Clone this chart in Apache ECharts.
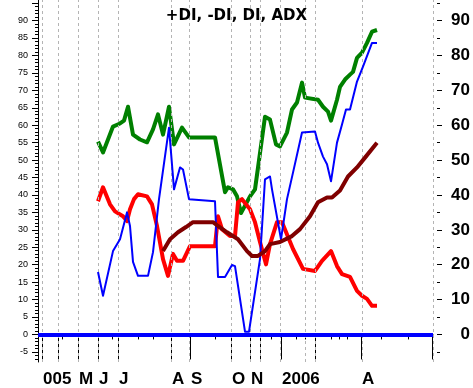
<!DOCTYPE html>
<html>
<head>
<meta charset="utf-8">
<script src="https://cdn.jsdelivr.net/npm/echarts@6/dist/echarts.min.js"></script>
<style>html,body{margin:0;padding:0;background:#fff}#c{width:473px;height:388px}</style>
</head>
<body>
<div id="c"></div>
<script>
// Bar index (x) and values for each series
const plusDiDays = [60,65,70,75,82,86,90,95,102,109,115,120,125,131,136,144,151,177,187,190,195,199,203,212,217,227,232,238,242,249,254,259,264,267,280,285,290,293,299,302,307,312,315,319,324,329,334,339];
const plusDiValues = [55.3,52.2,55.9,59.6,60.5,61.3,65.3,57.3,55.9,55.1,58.8,63.1,57.3,65.3,54.5,59.3,56.5,56.5,40.8,42.2,41.6,39.6,34.8,39.6,41.6,62.4,61.6,54.5,53.9,57.9,64.5,66.5,72.2,67.9,67.3,65.3,63.9,61.3,67.3,71.0,73.1,74.5,75.3,79.3,80.8,83.6,86.8,87.3];

const minusDiDays = [60,65,72,77,85,89,92,96,100,109,114,119,125,130,135,139,145,152,177,180,184,192,197,200,204,212,217,222,228,232,239,244,255,265,277,284,293,299,304,312,319,324,329,334,339];
const minusDiValues = [38.2,42.2,37.3,35.3,33.9,32.5,35.9,38.8,40.2,39.6,37.3,31.1,21.6,16.8,23.1,21.1,21.1,25.3,25.3,33.9,30.2,28.2,28.2,37.9,38.8,35.9,32.2,26.5,20.1,25.9,32.2,32.2,24.5,18.8,18.2,21.1,23.9,19.6,17.3,16.5,12.5,11.1,10.2,8.2,8.2];

const diDays = [60,65,75,82,89,92,95,100,110,115,121,131,136,142,145,151,177,180,187,194,197,207,211,222,227,232,234,243,249,255,264,277,280,285,289,293,299,304,308,312,319,325,334,339];
const diValues = [17.9,11.1,23.9,27.3,35.0,31.1,20.8,16.8,16.8,23.6,38.8,59.3,41.6,47.9,47.3,38.8,38.2,16.5,16.5,19.9,19.6,0.8,0.8,21.6,44.5,45.3,41.6,27.3,38.8,46.4,57.9,58.2,55.0,51.0,48.8,43.9,55.0,60.2,64.5,64.5,72.5,76.8,83.6,83.6];

const adxDays = [125,132,140,148,155,175,180,189,200,209,214,220,227,232,242,254,262,272,280,289,294,302,310,319,327,339];
const adxValues = [23.9,27.3,29.3,30.8,32.2,32.2,31.1,29.3,27.3,23.9,22.5,22.5,23.9,25.9,26.5,28.2,30.2,33.9,37.9,39.3,39.3,41.3,45.3,47.9,50.7,55.0];

// Time axis: month gridlines, labels and ticks (bar index)
const gridDays = [4,20,40,60,80,133,151,193,212,222,242,267,277,324,395];
const labelDays = [4,40,60,80,133,152,193,212,243,323];
const labelTexts = ['005','M','J','J','A','S','O','N','2006','A'];
const longTickDays = [4,20,40,60,80,133,152,193,212,222,243,277,323,394];
const shortTickDays = [24,74,100,115,177,233,258,267,293,301,309,343,370];

const yLeftLabels = [-5,0,5,10,15,20,25,30,35,40,45,50,55,60,65,70,75,80,85,90];
const yRightLabels = [0,10,20,30,40,50,60,70,80,90];

const YMIN = -7.9, YMAX = 95.9, XMAX = 395;
const zip = (xs, ys) => xs.map((x, i) => [x, ys[i]]);
const leftMajor = yLeftLabels.concat([95]);
const leftMinor = [];
for (let v = -7; v <= 95; v++) if (v % 5 !== 0) leftMinor.push(v);
const rightMinor = [-5,5,15,25,35,45,55,65,75,85,95];

const chart = echarts.init(document.getElementById('c'), null, {renderer: 'canvas'});
const baseY = {type: 'value', min: YMIN, max: YMAX, splitLine: {show: false}};
const baseX = {type: 'value', min: 0, max: XMAX, splitLine: {show: false}};
chart.setOption({
  animation: false,
  backgroundColor: '#fff',
  title: {
    text: '+DI, -DI, DI, ADX', left: 'center', top: 4,
    textStyle: {fontFamily: 'DejaVu Sans', fontWeight: 'bold', fontSize: 15, color: '#000'}
  },
  grid: {left: 38, right: 40, top: 0, bottom: 25, containLabel: false},
  xAxis: [
    Object.assign({}, baseX, {
      position: 'bottom',
      axisLine: {show: true, lineStyle: {color: '#000', width: 1}},
      axisTick: {show: true, customValues: longTickDays, length: 25, lineStyle: {color: '#000', width: 1}},
      axisLabel: {
        show: true, customValues: labelDays, align: 'left', margin: 9,
        padding: [0, 0, 0, 1],
        fontFamily: 'Liberation Sans', fontWeight: 'bold', fontSize: 17, color: '#000',
        formatter: v => labelTexts[labelDays.indexOf(v)] || ''
      }
    }),
    Object.assign({}, baseX, {
      position: 'bottom',
      axisLine: {show: false},
      axisTick: {show: true, customValues: shortTickDays, length: 5, lineStyle: {color: '#000'}},
      axisLabel: {show: false}
    })
  ],
  yAxis: [
    Object.assign({}, baseY, {
      position: 'left',
      axisLine: {show: true, lineStyle: {color: '#000', width: 1}},
      axisTick: {show: true, customValues: leftMajor, length: 6, lineStyle: {color: '#000'}},
      axisLabel: {customValues: yLeftLabels, margin: 10, fontFamily: 'Liberation Sans', fontSize: 9, color: '#000'}
    }),
    Object.assign({}, baseY, {
      position: 'left',
      axisLine: {show: false},
      axisTick: {show: true, customValues: leftMinor, length: 3, lineStyle: {color: '#000'}},
      axisLabel: {show: false}
    }),
    Object.assign({}, baseY, {
      position: 'right', offset: 4,
      axisLine: {show: false},
      axisTick: {show: true, customValues: yRightLabels, length: 5, lineStyle: {color: '#000'}},
      axisLabel: {customValues: yRightLabels, align: 'right', margin: 33, fontFamily: 'Liberation Sans', fontWeight: 'bold', fontSize: 17, color: '#000'}
    }),
    Object.assign({}, baseY, {
      position: 'right', offset: 4,
      axisLine: {show: false},
      axisTick: {show: true, customValues: rightMinor, length: 3, lineStyle: {color: '#000'}},
      axisLabel: {show: false}
    })
  ],
  series: [
    {
      type: 'line', name: 'grid', data: [], z: 1, silent: true,
      markLine: {
        silent: true, symbol: ['none', 'none'], label: {show: false},
        lineStyle: {type: [3, 3], color: '#b4b4b4', width: 1},
        data: gridDays.map(d => ({xAxis: d}))
      }
    },
    {
      type: 'line', name: 'zero', data: [], z: 2, silent: true,
      markLine: {
        silent: true, symbol: ['none', 'none'], label: {show: false},
        lineStyle: {type: 'solid', color: '#0000ff', width: 4},
        data: [{yAxis: 0}]
      }
    },
    {type: 'line', name: '+DI', data: zip(plusDiDays, plusDiValues), showSymbol: false, z: 3,
     lineStyle: {color: '#008000', width: 4, join: 'round'}, itemStyle: {color: '#008000'}},
    {type: 'line', name: '-DI', data: zip(minusDiDays, minusDiValues), showSymbol: false, z: 4,
     lineStyle: {color: '#ff0000', width: 4, join: 'round'}, itemStyle: {color: '#ff0000'}},
    {type: 'line', name: 'DI', data: zip(diDays, diValues), showSymbol: false, z: 5,
     lineStyle: {color: '#0000ff', width: 2, join: 'round'}, itemStyle: {color: '#0000ff'}},
    {type: 'line', name: 'ADX', data: zip(adxDays, adxValues), showSymbol: false, z: 6,
     lineStyle: {color: '#800000', width: 4, join: 'round'}, itemStyle: {color: '#800000'}}
  ]
});
</script>
</body>
</html>
